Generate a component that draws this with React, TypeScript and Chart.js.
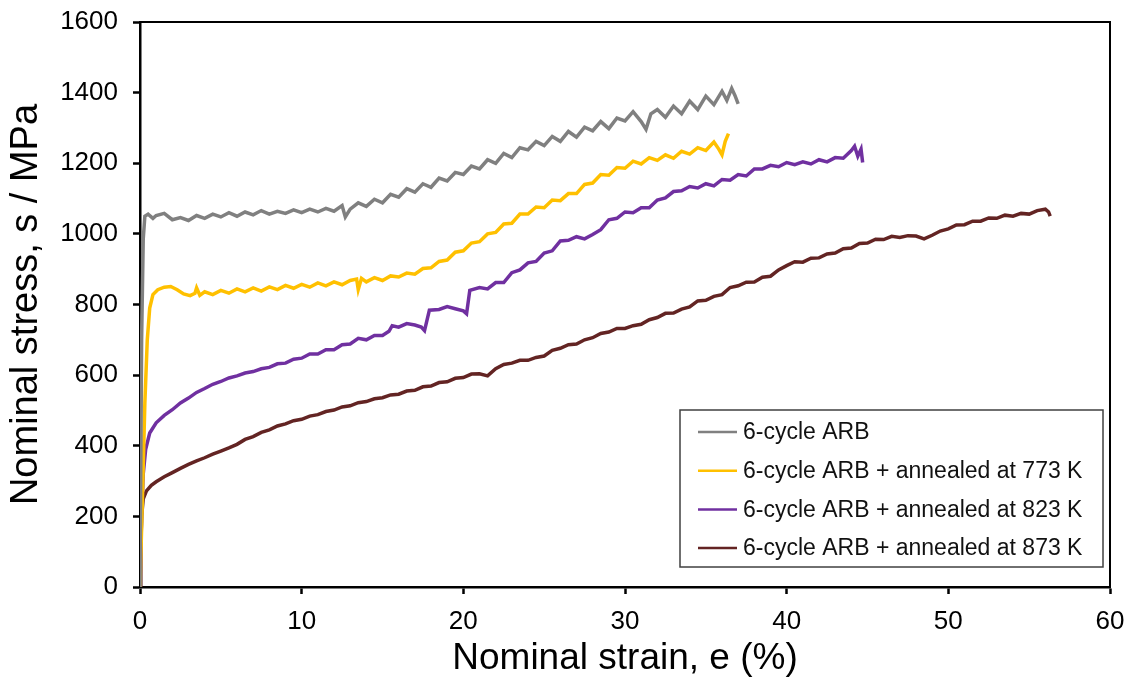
import React, { useEffect, useRef } from "react";
import { Chart, registerables } from "chart.js";

Chart.register(...registerables);

const SERIES_LABELS = [
  "6-cycle ARB",
  "6-cycle ARB + annealed at 773 K",
  "6-cycle ARB + annealed at 823 K",
  "6-cycle ARB + annealed at 873 K",
];
const SERIES_COLORS = ["#808080", "#FFC000", "#7030A0", "#632423"];

const X_TITLE = "Nominal strain, e (%)";
const Y_TITLE = "Nominal stress, s / MPa";

// [strain %, stress MPa]
const ARB6: [number, number][] = [
  [0, 0], [0.1, 700], [0.2, 985], [0.3, 1050], [0.5, 1056], [0.8, 1044], [1, 1052], [1.5, 1058], [2, 1040], [2.5, 1046],
  [3, 1038], [3.5, 1052], [4, 1044], [4.5, 1056], [5, 1048], [5.5, 1060], [6, 1050], [6.5, 1062], [7, 1054], [7.5, 1066],
  [8, 1056], [8.5, 1064], [9, 1058], [9.5, 1068], [10, 1060], [10.5, 1070], [11, 1062], [11.5, 1072], [12, 1064], [12.5, 1080],
  [12.7, 1048], [13, 1070], [13.5, 1088], [14, 1078], [14.5, 1098], [15, 1088], [15.5, 1112], [16, 1104], [16.5, 1128], [17, 1118],
  [17.5, 1142], [18, 1132], [18.5, 1158], [19, 1150], [19.5, 1174], [20, 1168], [20.5, 1192], [21, 1184], [21.5, 1210], [22, 1200],
  [22.5, 1228], [23, 1216], [23.5, 1244], [24, 1238], [24.5, 1262], [25, 1250], [25.5, 1276], [26, 1262], [26.5, 1290], [27, 1274],
  [27.5, 1302], [28, 1292], [28.5, 1318], [29, 1298], [29.5, 1328], [30, 1320], [30.5, 1346], [31, 1318], [31.3, 1296], [31.6, 1340],
  [32, 1352], [32.5, 1330], [33, 1362], [33.5, 1340], [34, 1376], [34.5, 1352], [35, 1390], [35.5, 1366], [36, 1404], [36.3, 1378],
  [36.6, 1412], [36.8, 1392], [37, 1368],
];

const ANN773: [number, number][] = [
  [0, 0], [0.15, 250], [0.3, 520], [0.45, 700], [0.6, 790], [0.8, 828], [1.1, 842], [1.5, 849], [1.9, 851], [2.3, 842],
  [2.7, 830], [3.1, 825], [3.4, 832], [3.5, 847], [3.7, 826], [4, 836], [4.5, 828], [5, 840], [5.5, 832], [6, 844],
  [6.5, 836], [7, 847], [7.5, 838], [8, 850], [8.5, 842], [9, 854], [9.5, 846], [10, 857], [10.5, 849], [11, 861],
  [11.5, 853], [12, 864], [12.5, 856], [13, 868], [13.4, 872], [13.5, 842], [13.7, 874], [14, 864], [14.5, 876], [15, 868],
  [15.5, 881], [16, 878], [16.5, 889], [17, 886], [17.5, 902], [18, 904], [18.5, 922], [19, 926], [19.5, 948], [20, 952],
  [20.5, 974], [21, 978], [21.5, 1000], [22, 1004], [22.5, 1028], [23, 1030], [23.5, 1056], [24, 1056], [24.5, 1076], [25, 1074],
  [25.5, 1096], [26, 1094], [26.5, 1114], [27, 1114], [27.5, 1140], [28, 1144], [28.5, 1168], [29, 1166], [29.5, 1188], [30, 1186],
  [30.5, 1206], [31, 1198], [31.5, 1216], [32, 1208], [32.5, 1224], [33, 1214], [33.5, 1234], [34, 1226], [34.5, 1244], [35, 1236],
  [35.5, 1260], [35.8, 1240], [36, 1224], [36.2, 1262], [36.4, 1284],
];

const ANN823: [number, number][] = [
  [0, 0], [0.1, 200], [0.2, 320], [0.35, 390], [0.6, 436], [1, 465], [1.5, 486], [2, 502], [2.5, 521], [3, 535],
  [3.5, 551], [4, 562], [4.5, 574], [5, 582], [5.5, 592], [6, 598], [6.5, 606], [7, 610], [7.5, 618], [8, 622],
  [8.5, 632], [9, 634], [9.5, 645], [10, 648], [10.5, 660], [11, 660], [11.5, 672], [12, 672], [12.5, 686], [13, 688],
  [13.5, 704], [14, 700], [14.5, 712], [15, 712], [15.4, 724], [15.6, 740], [16, 736], [16.5, 746], [17, 742], [17.4, 736],
  [17.6, 726], [17.9, 784], [18.5, 786], [19, 794], [19.5, 788], [20, 782], [20.2, 774], [20.4, 840], [21, 848], [21.5, 844],
  [22, 862], [22.5, 862], [23, 890], [23.5, 898], [24, 918], [24.5, 922], [25, 946], [25.5, 952], [26, 980], [26.5, 982],
  [27, 992], [27.5, 986], [28, 998], [28.5, 1012], [29, 1040], [29.5, 1044], [30, 1062], [30.5, 1060], [31, 1074], [31.5, 1074],
  [32, 1096], [32.5, 1102], [33, 1120], [33.5, 1122], [34, 1134], [34.5, 1130], [35, 1142], [35.5, 1136], [36, 1154], [36.5, 1152],
  [37, 1168], [37.5, 1164], [38, 1184], [38.5, 1184], [39, 1194], [39.5, 1190], [40, 1202], [40.5, 1196], [41, 1204], [41.5, 1198],
  [42, 1210], [42.5, 1204], [43, 1216], [43.5, 1214], [44, 1236], [44.2, 1248], [44.4, 1220], [44.6, 1240], [44.7, 1202],
];

const ANN873: [number, number][] = [
  [0, 0], [0.05, 120], [0.1, 200], [0.2, 250], [0.4, 272], [0.7, 288], [1, 298], [1.5, 312], [2, 324], [2.5, 336],
  [3, 347], [3.5, 357], [4, 366], [4.5, 376], [5, 385], [5.5, 394], [6, 404], [6.5, 418], [7, 426], [7.5, 438],
  [8, 445], [8.5, 456], [9, 462], [9.5, 471], [10, 475], [10.5, 484], [11, 488], [11.5, 497], [12, 501], [12.5, 510],
  [13, 513], [13.5, 522], [14, 525], [14.5, 533], [15, 536], [15.5, 544], [16, 546], [16.5, 555], [17, 557], [17.5, 567],
  [18, 569], [18.5, 579], [19, 581], [19.5, 591], [20, 593], [20.5, 603], [21, 604], [21.5, 598], [22, 618], [22.5, 630],
  [23, 634], [23.5, 642], [24, 642], [24.5, 650], [25, 654], [25.5, 670], [26, 676], [26.5, 686], [27, 688], [27.5, 700],
  [28, 706], [28.5, 718], [29, 722], [29.5, 732], [30, 732], [30.5, 740], [31, 744], [31.5, 757], [32, 763], [32.5, 775],
  [33, 776], [33.5, 787], [34, 793], [34.5, 810], [35, 812], [35.5, 823], [36, 828], [36.5, 848], [37, 853], [37.5, 863],
  [38, 864], [38.5, 877], [39, 880], [39.5, 898], [40, 910], [40.5, 921], [41, 920], [41.5, 931], [42, 932], [42.5, 943],
  [43, 946], [43.5, 958], [44, 960], [44.5, 973], [45, 974], [45.5, 985], [46, 984], [46.5, 993], [47, 990], [47.5, 995],
  [48, 994], [48.5, 986], [49, 996], [49.5, 1008], [50, 1014], [50.5, 1025], [51, 1026], [51.5, 1036], [52, 1036], [52.5, 1045],
  [53, 1044], [53.5, 1053], [54, 1050], [54.5, 1058], [55, 1056], [55.5, 1066], [56, 1070], [56.2, 1062], [56.3, 1050],
];

const SERIES_DATA = [ARB6, ANN773, ANN823, ANN873];

const X_MIN = 0, X_MAX = 60, X_STEP = 10;
const Y_MIN = 0, Y_MAX = 1600, Y_STEP = 200;

const FONT = "'Liberation Sans', Arial, sans-serif";

const boxLegend = {
  id: "boxLegend",
  afterDraw(chart: any) {
    const { ctx, chartArea } = chart;
    const w = 423, h = 157;
    const left = chartArea.right - 430;
    const top = chartArea.bottom - 177;
    ctx.save();
    ctx.fillStyle = "#ffffff";
    ctx.fillRect(left, top, w, h);
    ctx.strokeStyle = "#404040";
    ctx.lineWidth = 1.5;
    ctx.strokeRect(left, top, w, h);
    ctx.font = `23px ${FONT}`;
    ctx.textBaseline = "middle";
    ctx.textAlign = "left";
    chart.data.datasets.forEach((ds: any, i: number) => {
      const cy = top + 22 + i * 38.7;
      ctx.strokeStyle = ds.borderColor;
      ctx.lineWidth = 2.5;
      ctx.beginPath();
      ctx.moveTo(left + 18, cy);
      ctx.lineTo(left + 57, cy);
      ctx.stroke();
      ctx.fillStyle = "#111111";
      ctx.fillText(ds.label, left + 63, cy + 1);
    });
    ctx.restore();
  },
};

const frame = {
  id: "frame",
  afterDatasetsDraw(chart: any) {
    const { ctx, chartArea } = chart;
    ctx.save();
    ctx.strokeStyle = "#000";
    ctx.lineWidth = 2;
    ctx.beginPath();
    ctx.moveTo(chartArea.left, chartArea.top);
    ctx.lineTo(chartArea.right, chartArea.top);
    ctx.lineTo(chartArea.right, chartArea.bottom);
    ctx.stroke();
    ctx.restore();
  },
};

const zeroPad = (s: any) => {
  s.paddingTop = 0;
  s.paddingBottom = 0;
  s.paddingLeft = 0;
  s.paddingRight = 0;
};

export default function App() {
  const ref = useRef<HTMLCanvasElement | null>(null);
  useEffect(() => {
    if (!ref.current) return;
    const chart = new Chart(ref.current, {
      type: "line",
      data: {
        datasets: SERIES_DATA.map((s, i) => ({
          label: SERIES_LABELS[i],
          data: s.map(([x, y]) => ({ x, y })),
          borderColor: SERIES_COLORS[i],
          backgroundColor: SERIES_COLORS[i],
          borderWidth: 3.5,
          pointRadius: 0,
          tension: 0,
          fill: false,
        })),
      },
      options: {
        responsive: false,
        animation: false,
        devicePixelRatio: 1,
        layout: { padding: { top: 22, right: 22, left: 0, bottom: 0 } },
        plugins: { legend: { display: false }, tooltip: { enabled: false } },
        scales: {
          x: {
            type: "linear",
            min: X_MIN,
            max: X_MAX,
            afterFit: (s: any) => { s.height = 95; zeroPad(s); },
            border: { color: "#000", width: 2.5 },
            grid: { drawOnChartArea: false, drawTicks: true, tickLength: 7, tickColor: "#000", tickWidth: 2.5 },
            ticks: { stepSize: X_STEP, color: "#000", padding: 12, font: { family: FONT, size: 26 }, callback: (v: any) => String(v) },
            title: { display: true, text: X_TITLE, color: "#000", padding: { top: 0, bottom: 1 }, font: { family: FONT, size: 37 } },
          },
          y: {
            type: "linear",
            min: Y_MIN,
            max: Y_MAX,
            afterFit: (s: any) => { s.width = 140; zeroPad(s); },
            border: { color: "#000", width: 2.5 },
            grid: { drawOnChartArea: false, drawTicks: true, tickLength: 7, tickColor: "#000", tickWidth: 2.5 },
            ticks: { stepSize: Y_STEP, color: "#000", padding: 15, font: { family: FONT, size: 26 }, callback: (v: any) => String(v) },
            title: { display: true, text: Y_TITLE, color: "#000", padding: { top: 4, bottom: 0 }, font: { family: FONT, size: 38 } },
          },
        },
      },
      plugins: [frame, boxLegend],
    });
    return () => chart.destroy();
  }, []);
  return (
    <div style={{ position: "fixed", left: 0, top: 0, width: 1132, height: 682, background: "#fff" }}>
      <canvas ref={ref} width={1132} height={682} />
    </div>
  );
}
